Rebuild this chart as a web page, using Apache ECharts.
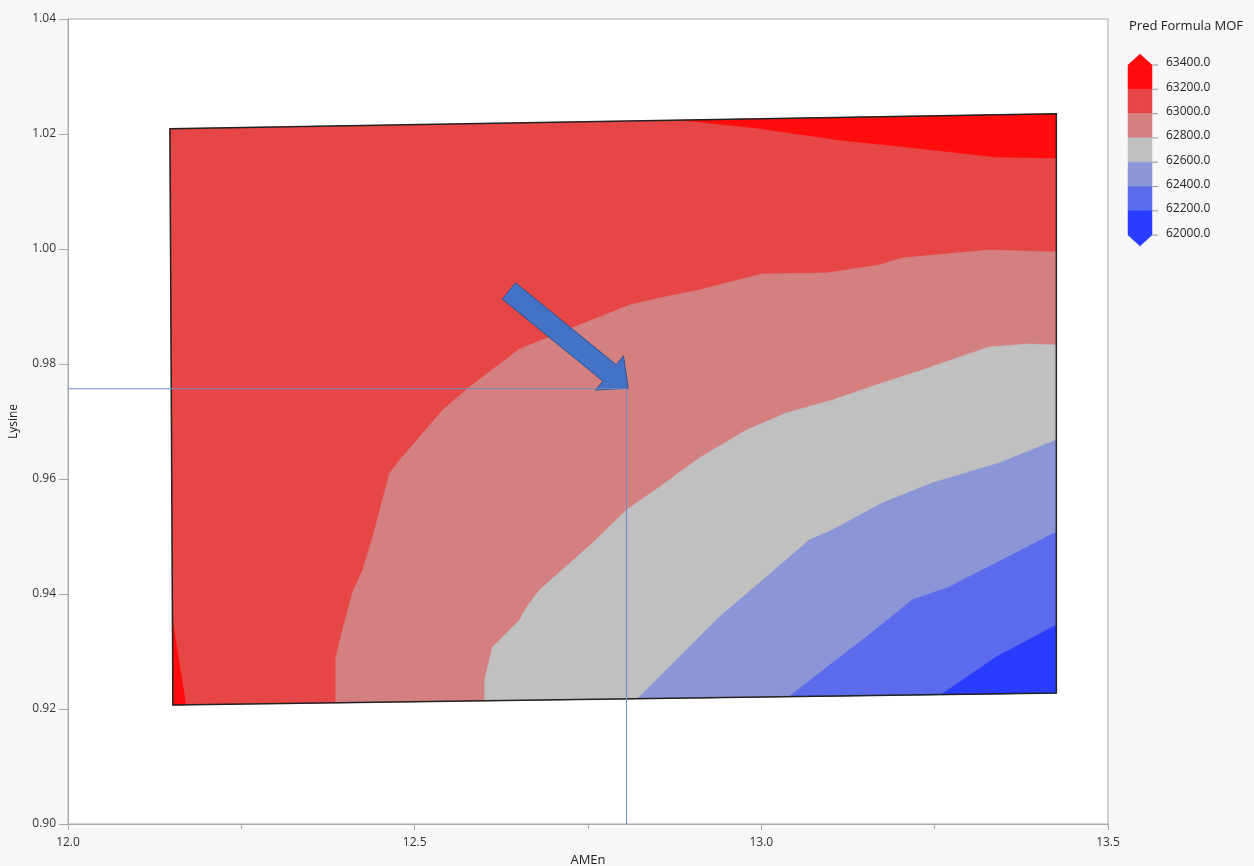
<!DOCTYPE html>
<html>
<head>
<meta charset="utf-8">
<script src="https://cdn.jsdelivr.net/npm/echarts@6/dist/echarts.min.js"></script>
<style>
  html, body { margin: 0; padding: 0; background: #f7f7f7; }
  #chart { width: 1254px; height: 866px; }
</style>
</head>
<body>
<div id="chart"></div>
<script>
// Contour levels of Pred Formula MOF (legend, top to bottom)
const levels = [63400, 63200, 63000, 62800, 62600, 62400, 62200, 62000];

// Outline of the explored region, [AMEn, Lysine]: TL, TR, BR, BL
const regionOutline = [[12.1470, 1.0209], [13.4255, 1.0235], [13.4255, 0.9228], [12.1513, 0.9207]];

// Contour lines, [AMEn, Lysine]
const contour63200Top = [[12.8862, 1.02238], [12.9928, 1.02104], [13.1124, 1.01896], [13.2089, 1.01774],
  [13.3386, 1.01600], [13.4255, 1.01583]];
const contour63200Left = [[12.1507, 0.93548], [12.1700, 0.92073]];
const contour63000 = [[12.3862, 0.92108], [12.3862, 0.92887], [12.3948, 0.93322], [12.4107, 0.94035],
  [12.4251, 0.94417], [12.4395, 0.94991], [12.4640, 0.96104], [12.4784, 0.96330], [12.4971, 0.96591],
  [12.5403, 0.97200], [12.5793, 0.97600], [12.6513, 0.98261], [12.8098, 0.99026], [12.8530, 0.99148],
  [12.9107, 0.99287], [13.0000, 0.99565], [13.0937, 0.99583], [13.1700, 0.99722], [13.2032, 0.99843],
  [13.3285, 0.99983], [13.4255, 0.99948]];
const contour62800 = [[12.6009, 0.92143], [12.6009, 0.92504], [12.6124, 0.93078], [12.6268, 0.93252],
  [12.6513, 0.93548], [12.6614, 0.93774], [12.6801, 0.94070], [12.7565, 0.94887], [12.8055, 0.95461],
  [12.8530, 0.95861], [12.9107, 0.96365], [12.9784, 0.96852], [13.0360, 0.97148], [13.1023, 0.97374],
  [13.1657, 0.97635], [13.2320, 0.97896], [13.3285, 0.98296], [13.3862, 0.98348], [13.4255, 0.98330]];
const contour62600 = [[12.8213, 0.92179], [12.8631, 0.92678], [12.9063, 0.93200], [12.9395, 0.93600],
  [13.0072, 0.94296], [13.0692, 0.94939], [13.1023, 0.95113], [13.1744, 0.95583], [13.2464, 0.95930],
  [13.3429, 0.96278], [13.4255, 0.96678]];
const contour62400 = [[13.0403, 0.92216], [13.1023, 0.92800], [13.1513, 0.93252], [13.2176, 0.93896],
  [13.2709, 0.94122], [13.3386, 0.94539], [13.4255, 0.95078]];
const contour62200 = [[13.2594, 0.92250], [13.3386, 0.92904], [13.4255, 0.93461]];

// Selected setting (crosshair) and the arrow pointing at it
const crossAMEn = 12.8055;
const crossLysine = 0.9757;
const arrowFrom = [12.636, 0.9927];
const arrowTo = [12.808, 0.9758];

// Band fill colours, high to low
const colors = ['#ff0d0d', '#e64646', '#d48080', '#c0c0c0', '#8c96d6', '#5c6aec', '#2a3cff'];

const TR = regionOutline[1], BR = regionOutline[2], BL = regionOutline[3];
const bands = [
  { pts: regionOutline, color: colors[1] },
  { pts: contour63200Top.concat([TR]), color: colors[0] },
  { pts: contour63200Left.concat([BL]), color: colors[0] },
  { pts: contour63000.concat([BR]), color: colors[2] },
  { pts: contour62800.concat([BR]), color: colors[3] },
  { pts: contour62600.concat([BR]), color: colors[4] },
  { pts: contour62400.concat([BR]), color: colors[5] },
  { pts: contour62200.concat([BR]), color: colors[6] }
];

const FONT = 'Open Sans';

// Legend: stepped colour bar with arrow ends
const lgX = 1128, lgW = 24, lgTop = 65, lgStep = 24.3, lgArrow = 11;
const legendGraphics = [{
  type: 'text', left: 1129, top: 20,
  style: { text: 'Pred Formula MOF', fill: '#222', font: '13px "' + FONT + '"' }
}];
for (let i = 0; i < colors.length; i++) {
  const y0 = lgTop + i * lgStep, y1 = lgTop + (i + 1) * lgStep;
  let pts = [[lgX, y0], [lgX + lgW, y0], [lgX + lgW, y1], [lgX, y1]];
  if (i === 0) pts = [[lgX, y0], [lgX + lgW / 2, y0 - lgArrow], [lgX + lgW, y0], [lgX + lgW, y1], [lgX, y1]];
  if (i === colors.length - 1) pts = [[lgX, y0], [lgX + lgW, y0], [lgX + lgW, y1], [lgX + lgW / 2, y1 + lgArrow], [lgX, y1]];
  legendGraphics.push({ type: 'polygon', shape: { points: pts }, style: { fill: colors[i], stroke: colors[i], lineWidth: 0.5 } });
}
levels.forEach((lv, i) => {
  const y = lgTop + i * lgStep;
  legendGraphics.push({ type: 'line', shape: { x1: lgX + lgW, y1: y, x2: lgX + lgW + 6, y2: y }, style: { stroke: '#999', lineWidth: 1 } });
  legendGraphics.push({
    type: 'text', left: 1166, top: y - 8,
    style: { text: lv.toFixed(1), fill: '#222', font: '12px "' + FONT + '"' }
  });
});

const chart = echarts.init(document.getElementById('chart'));
chart.setOption({
  animation: false,
  backgroundColor: '#f7f7f7',
  textStyle: { fontFamily: FONT },
  grid: {
    left: 68, right: 146, top: 19, bottom: 42, outerBoundsMode: 'none', containLabel: false,
    show: true, backgroundColor: '#ffffff', borderColor: '#a8a8a8', borderWidth: 1
  },
  xAxis: {
    type: 'value', min: 12, max: 13.5, interval: 0.5,
    name: 'AMEn', nameLocation: 'middle', nameGap: 30,
    nameTextStyle: { color: '#222', fontSize: 13 },
    axisLine: { show: true, lineStyle: { color: '#a8a8a8' } },
    axisTick: { show: true, length: 6, lineStyle: { color: '#a8a8a8' } },
    minorTick: { show: true, splitNumber: 2, length: 5, lineStyle: { color: '#a8a8a8' } },
    splitLine: { show: false },
    axisLabel: { color: '#333', fontSize: 12, margin: 13, formatter: v => v.toFixed(1) }
  },
  yAxis: {
    type: 'value', min: 0.90, max: 1.04, interval: 0.02,
    name: 'Lysine', nameLocation: 'middle', nameGap: 48, nameRotate: 90,
    nameTextStyle: { color: '#222', fontSize: 12 },
    axisLine: { show: true, lineStyle: { color: '#a8a8a8' } },
    axisTick: { show: true, length: 9, lineStyle: { color: '#a8a8a8' } },
    splitLine: { show: false },
    axisLabel: { color: '#333', fontSize: 12, margin: 12, formatter: v => v.toFixed(2) }
  },
  graphic: legendGraphics,
  series: [
    {
      type: 'custom', silent: true,
      data: bands.map((b, i) => [b.pts[0][0], b.pts[0][1], i]),
      encode: { x: 0, y: 1 },
      renderItem: (params, api) => {
        const b = bands[api.value(2)];
        return {
          type: 'polygon',
          shape: { points: b.pts.map(p => api.coord(p)) },
          style: { fill: b.color, stroke: b.color, lineWidth: 0.6 }
        };
      }
    },
    {
      type: 'custom', silent: true,
      data: [[regionOutline[0][0], regionOutline[0][1]]],
      renderItem: (params, api) => ({
        type: 'polygon',
        shape: { points: regionOutline.map(p => api.coord(p)) },
        style: { fill: 'none', stroke: '#222', lineWidth: 1.5 }
      })
    },
    {
      type: 'line', silent: true, symbol: 'none',
      data: [[12, crossLysine], [crossAMEn, crossLysine], [crossAMEn, 0.90]],
      lineStyle: { color: '#6f8cc0', width: 1 }
    },
    {
      type: 'custom', silent: true,
      data: [[arrowFrom[0], arrowFrom[1], arrowTo[0], arrowTo[1]]],
      encode: { x: [0, 2], y: [1, 3] },
      renderItem: (params, api) => {
        const a = api.coord([api.value(0), api.value(1)]);
        const b = api.coord([api.value(2), api.value(3)]);
        const dx = b[0] - a[0], dy = b[1] - a[1];
        const len = Math.hypot(dx, dy);
        const ux = dx / len, uy = dy / len, nx = -uy, ny = ux;
        const sw = 10.5, hw = 22, hl = 24;
        const P = (s, t) => [a[0] + ux * s + nx * t, a[1] + uy * s + ny * t];
        return {
          type: 'polygon',
          shape: { points: [P(0, -sw), P(len - hl, -sw), P(len - hl, -hw), P(len, 0), P(len - hl, hw), P(len - hl, sw), P(0, sw)] },
          style: { fill: '#4472c4', stroke: '#2f528f', lineWidth: 1 }
        };
      }
    }
  ]
});
</script>
</body>
</html>
